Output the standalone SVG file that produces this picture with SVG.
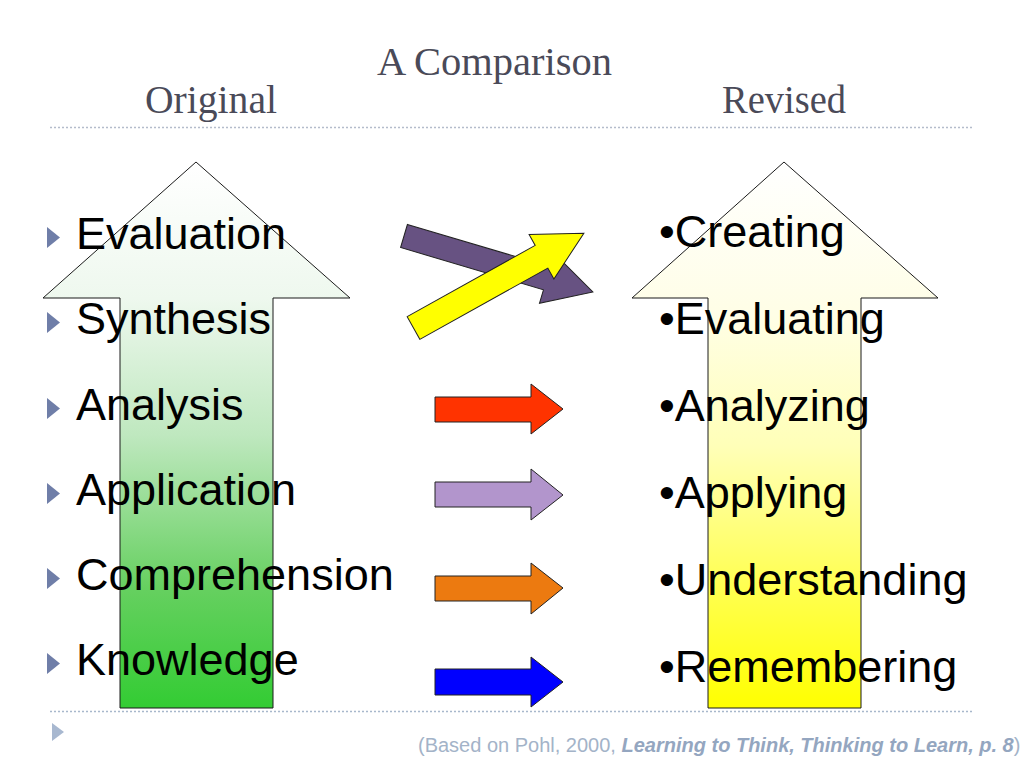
<svg xmlns="http://www.w3.org/2000/svg" width="1024" height="768" viewBox="0 0 1024 768">
<defs>
<linearGradient id="gGreen" x1="0" y1="162" x2="0" y2="708" gradientUnits="userSpaceOnUse">
<stop offset="0" stop-color="#ffffff"/>
<stop offset="0.25" stop-color="#eef8ee"/>
<stop offset="0.5" stop-color="#bfe8bf"/>
<stop offset="0.78" stop-color="#66d060"/>
<stop offset="1" stop-color="#33cc33"/>
</linearGradient>
<linearGradient id="gYellow" x1="0" y1="162" x2="0" y2="708" gradientUnits="userSpaceOnUse">
<stop offset="0" stop-color="#ffffff"/>
<stop offset="0.28" stop-color="#fffee6"/>
<stop offset="0.52" stop-color="#ffffb8"/>
<stop offset="0.78" stop-color="#ffff50"/>
<stop offset="1" stop-color="#ffff00"/>
</linearGradient>
<style>
.hdr{font-family:"Liberation Serif",serif;font-size:39px;fill:#4a4a58;}
.item{font-family:"Liberation Sans",Arial,sans-serif;font-size:45px;fill:#000000;}
.bul{fill:#6f7ea8;}
.arr{stroke:#222222;stroke-width:1;stroke-linejoin:miter;}
.big{stroke:#1a1a1a;stroke-width:1;}
.dots{fill:none;stroke:#b4bccb;stroke-width:1.5;stroke-dasharray:2 2;}
.foot{font-family:"Liberation Sans",Arial,sans-serif;font-size:20px;fill:#a3b3c8;}
</style>
</defs>
<rect width="1024" height="768" fill="#ffffff"/>

<g id="header">
<text class="hdr" x="377" y="75" textLength="235" lengthAdjust="spacingAndGlyphs">A Comparison</text>
<text class="hdr" x="145" y="113" textLength="132" lengthAdjust="spacingAndGlyphs">Original</text>
<text class="hdr" x="722" y="113" textLength="124" lengthAdjust="spacingAndGlyphs">Revised</text>
<line class="dots" x1="50" y1="127.5" x2="972" y2="127.5"/>
</g>

<g id="original-arrow">
<polygon class="big" fill="url(#gGreen)" points="196,162 350,298 273,298 273,708 120,708 120,298 43,298"/>
</g>
<g id="revised-arrow">
<polygon class="big" fill="url(#gYellow)" points="784,162 938,298 861,298 861,708 708,708 708,298 632,298"/>
</g>

<g id="connectors">
<polygon class="arr" fill="#675282" transform="translate(404,236) rotate(16.5)" points="0,-12 149,-12 149,-26 197,0 149,26 149,12 0,12"/>
<polygon class="arr" fill="#ffff00" transform="translate(413.5,328) rotate(-29.1)" points="0,-13 146.5,-13 146.5,-25.5 195,0 146.5,25.5 146.5,13 0,13"/>
<polygon class="arr" fill="#ff3300" points="435,397 531,397 531,384 563,409 531,434 531,422 435,422"/>
<polygon class="arr" fill="#b295cc" points="435,482 531,482 531,469 563,495 531,520 531,507 435,507"/>
<polygon class="arr" fill="#ec7a10" points="435,576 531,576 531,563 563,588 531,614 531,601 435,601"/>
<polygon class="arr" fill="#0000ff" points="435,669 531,669 531,657 563,682 531,707 531,695 435,695"/>
</g>

<g id="original-list">
<polygon class="bul" points="47,227 47,248 60,237.5"/>
<text class="item" x="76" y="249">Evaluation</text>
<polygon class="bul" points="47,312 47,333 60,322.5"/>
<text class="item" x="76" y="334">Synthesis</text>
<polygon class="bul" points="47,398 47,419 60,408.5"/>
<text class="item" x="76" y="420">Analysis</text>
<polygon class="bul" points="47,483 47,504 60,493.5"/>
<text class="item" x="76" y="505">Application</text>
<polygon class="bul" points="47,568 47,589 60,578.5"/>
<text class="item" x="76" y="590">Comprehension</text>
<polygon class="bul" points="47,653 47,674 60,663.5"/>
<text class="item" x="76" y="675">Knowledge</text>
</g>

<g id="revised-list">
<text class="item" x="659" y="247">•Creating</text>
<text class="item" x="659" y="334">•Evaluating</text>
<text class="item" x="659" y="421">•Analyzing</text>
<text class="item" x="659" y="508">•Applying</text>
<text class="item" x="659" y="595">•Understanding</text>
<text class="item" x="659" y="682">•Remembering</text>
</g>

<g id="footer">
<line class="dots" x1="50" y1="711.5" x2="972" y2="711.5" style="stroke:#a8b8cc"/>
<polygon fill="#a8b8d0" points="52,723 52,741 64,732"/>
<text class="foot" x="418" y="752">(Based on Pohl, 2000, <tspan font-weight="bold" font-style="italic" fill="#94a6c0">Learning to Think, Thinking to Learn, p. 8</tspan>)</text>
</g>
</svg>
